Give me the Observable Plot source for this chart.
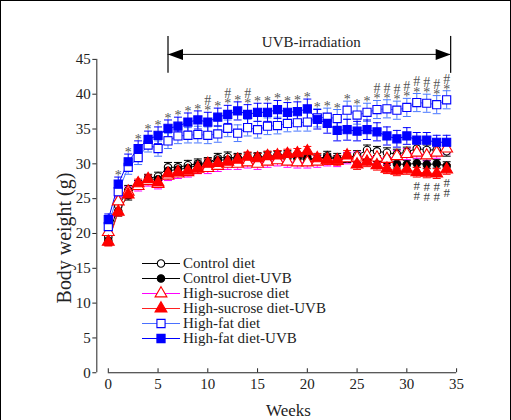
<!DOCTYPE html>
<html><head><meta charset="utf-8">
<script src="https://cdn.jsdelivr.net/npm/d3@7"></script>
<script src="https://cdn.jsdelivr.net/npm/@observablehq/plot@0.6"></script>
<style>
html,body{margin:0;padding:0;background:#fff;}
#wrap{position:relative;width:511px;height:420px;box-sizing:border-box;border:1px solid #000;border-bottom:none;overflow:hidden;font-family:"Liberation Serif",serif;}
#chart{position:absolute;left:-1px;top:-1px;}
#legend{position:absolute;left:-1px;top:-1px;}
svg text{font-family:"Liberation Serif",serif;}
</style></head><body><div id="wrap"><div id="chart"></div><svg id="legend" width="511" height="420"></svg></div>
<script>
// ---------- data ----------
const weeks = [0,1,2,3,4,5,6,7,8,9,10,11,12,13,14,15,16,17,18,19,20,21,22,23,24,25,26,27,28,29,30,31,32,33,34];
const controlDiet    = [19.5,24.0,26.2,27.0,27.9,28.2,29.5,29.5,29.8,30.0,30.2,30.8,31.0,30.8,30.9,30.8,31.1,31.2,31.0,30.8,30.6,30.7,31.1,30.8,30.9,31.2,32.0,31.8,31.6,31.4,31.7,32.2,32.0,32.0,31.8];
const controlUvb     = [19.0,23.2,25.5,27.0,27.8,27.8,29.0,29.2,29.4,29.8,30.1,30.5,30.6,30.8,30.8,31.0,31.0,31.2,31.3,31.0,30.9,30.6,30.9,30.6,30.8,30.8,30.7,30.6,30.4,30.0,29.9,30.1,29.9,30.0,29.7];
const sucroseDiet    = [20.2,24.6,26.0,26.8,27.5,27.1,28.3,28.6,28.8,29.4,29.4,29.7,30.0,30.0,30.2,30.0,30.3,30.5,30.3,30.2,30.2,30.3,30.5,30.4,30.8,30.9,31.2,30.9,30.7,31.1,31.4,31.6,31.2,31.6,32.2];
const sucroseUvb     = [18.8,23.1,25.6,27.2,27.8,27.3,28.6,28.8,29.0,29.3,30.0,30.1,30.3,30.6,31.0,30.8,31.1,31.2,31.4,31.5,31.8,30.8,30.6,30.5,31.2,29.9,30.3,29.8,29.3,29.0,29.2,28.8,28.7,28.6,29.2];
const fatDiet        = [21.0,26.0,29.5,30.9,32.7,32.2,33.3,34.0,34.1,34.2,34.1,34.3,35.1,34.4,35.2,34.9,35.4,35.5,35.8,35.9,36.0,36.6,36.7,36.5,37.7,37.0,37.4,37.8,37.9,37.7,38.1,38.8,38.7,38.5,39.2];
const fatUvb         = [22.0,27.1,30.3,32.2,33.5,34.1,35.1,35.4,36.0,36.3,36.0,36.7,37.1,37.6,37.1,37.4,37.4,37.8,37.4,37.5,37.9,36.4,35.8,34.8,34.9,34.7,34.9,34.6,34.0,33.6,34.0,33.4,33.4,33.1,33.1];
// standard errors
const controlDietErr = [0.6,0.7,0.7,0.6,0.6,0.6,0.7,0.7,0.7,0.7,0.7,0.7,0.7,0.7,0.7,0.7,0.7,0.7,0.7,0.7,0.7,0.7,0.7,0.7,0.7,0.7,0.7,0.7,0.7,0.7,0.7,0.7,0.7,0.7,0.7];
const controlUvbErr  = [0.7,0.7,0.7,0.6,0.6,0.6,0.6,0.6,0.6,0.6,0.6,0.6,0.6,0.6,0.6,0.6,0.6,0.6,0.6,0.6,0.6,0.6,0.6,0.6,0.6,0.6,0.6,0.6,0.6,0.6,0.6,0.6,0.6,0.6,0.6];
const sucroseDietErr = [0.6,0.7,0.7,0.7,0.7,0.7,0.7,0.7,0.7,0.8,0.8,0.8,0.8,0.8,0.8,0.8,0.8,0.8,0.8,0.8,0.8,0.8,0.8,0.8,0.8,0.8,0.8,0.8,0.8,0.8,0.8,0.8,0.8,0.8,0.8];
const sucroseUvbErr  = [0.6,0.6,0.6,0.6,0.6,0.6,0.6,0.6,0.6,0.7,0.7,0.7,0.7,0.7,0.7,0.7,0.7,0.7,0.7,0.7,0.7,0.7,0.7,0.7,0.7,0.7,0.7,0.7,0.7,0.7,0.7,0.7,0.7,0.7,0.7];
const fatDietErr     = [0.7,0.9,1.0,1.0,1.0,1.1,1.1,1.1,1.1,1.2,1.2,1.2,1.2,1.2,1.2,1.2,1.2,1.2,1.2,1.2,1.3,1.3,1.3,1.3,1.3,1.3,1.3,1.3,1.3,1.3,1.3,1.3,1.3,1.3,1.3];
const fatUvbErr      = [0.8,1.0,1.1,1.1,1.2,1.2,1.2,1.3,1.3,1.3,1.4,1.3,1.3,1.3,1.4,1.3,1.3,1.3,1.4,1.4,1.4,1.4,1.4,1.5,1.5,1.4,1.4,1.3,1.3,1.2,1.2,1.1,1.1,1.0,1.0];
// significance marks
const starWeeks = [1,2,3,4,5,6,7,8,9,10,11,12,13,14,15,16,17,18,19,20,21,22,23,24,25,26,27,28,29,30,31,32,33,34];
const hashTopWeeks = [10,12,14,27,28,29,30,31,32,33,34];
const hashBottomWeeks = [31,32,33,34];
const xTicks = [0,5,10,15,20,25,30,35];
const yTicks = [0,5,10,15,20,25,30,35,40,45];
const uvbStart = 6, uvbEnd = 34.4;
const uvbLabel = "UVB-irradiation";
const yLabel = "Body weight (g)";
const xLabel = "Weeks";
const seriesNames = ["Control diet","Control diet-UVB","High-sucrose diet","High-sucrose diet-UVB","High-fat diet","High-fat diet-UVB"];

// ---------- styles ----------
const styles = [
  {line:"#000000", err:"#000000", mk:"#000000", fill:"#ffffff", symbol:"circle", r:3.7},
  {line:"#000000", err:"#000000", mk:"#000000", fill:"#000000", symbol:"circle", r:3.7},
  {line:"#ff00ff", err:"#ff00ff", mk:"#ff0000", fill:"#ffffff", symbol:"triangle", r:4.4},
  {line:"#ff2020", err:"#ff0000", mk:"#ff0000", fill:"#ff0000", symbol:"triangle", r:4.4},
  {line:"#4a70ff", err:"#4a78ff", mk:"#0000ff", fill:"#ffffff", symbol:"square", r:4.6},
  {line:"#0000ff", err:"#0000ff", mk:"#0000ff", fill:"#0000ff", symbol:"square", r:4.6}
];
const valueArrays = [controlDiet, controlUvb, sucroseDiet, sucroseUvb, fatDiet, fatUvb];
const errArrays = [controlDietErr, controlUvbErr, sucroseDietErr, sucroseUvbErr, fatDietErr, fatUvbErr];
const series = seriesNames.map((name, i) => ({
  name, style: styles[i],
  rows: weeks.map((w, j) => ({week: w, value: valueArrays[i][j], err: errArrays[i][j]}))
}));

const capSym = {draw(ctx){ ctx.moveTo(-4,0); ctx.lineTo(4,0); }};
const barSym = {draw(ctx){ ctx.moveTo(0,-18.5); ctx.lineTo(0,18.5); }};
const headL = {draw(ctx){ ctx.moveTo(0,0); ctx.lineTo(15,-5.5); ctx.lineTo(15,5.5); ctx.closePath(); }};
const headR = {draw(ctx){ ctx.moveTo(0,0); ctx.lineTo(-15,-5.5); ctx.lineTo(-15,5.5); ctx.closePath(); }};

const starRows = starWeeks.map(w => {
  const j = weeks.indexOf(w);
  return {week: w, top: Math.max(fatDiet[j] + fatDietErr[j], fatUvb[j] + fatUvbErr[j]),
          label: hashTopWeeks.includes(w) ? "#\n*" : "*"};
});
const hashBottomRows = hashBottomWeeks.map(w => {
  const j = weeks.indexOf(w);
  return {week: w, bottom: Math.min(sucroseUvb[j] - sucroseUvbErr[j], controlUvb[j] - controlUvbErr[j])};
});

const font = "Liberation Serif";
const marks = [
  // axes
  Plot.ruleX([0], {y1: 0, y2: 45, dx: -11.5, stroke: "#222"}),
  Plot.axisY({ticks: yTicks, label: null, dx: -11.5, tickSize: 4, tickPadding: 2, fontSize: 15, fontFamily: font, color: "#222"}),
  Plot.ruleY([0], {x1: 0, x2: 35, stroke: "#222"}),
  Plot.axisX({ticks: xTicks, label: null, tickSize: 4, dy: -4, fill: "none", stroke: "#222"}),
  Plot.axisX({ticks: xTicks, label: null, tickSize: 0, tickPadding: 6, fontSize: 15, fontFamily: font, color: "#222"}),
  Plot.text([yLabel], {frameAnchor: "left", rotate: -90, textAnchor: "middle", dx: -44, dy: 22, fontSize: 20, fontFamily: font, fill: "#222", style: "letter-spacing:2px"}),
  Plot.text([xLabel], {frameAnchor: "bottom", lineAnchor: "bottom", dx: 6, dy: 43, fontSize: 17, fontFamily: font, fill: "#222"}),
  // UVB bracket
  Plot.ruleY([45], {x1: uvbStart, x2: uvbEnd, dy: -5, stroke: "#111"}),
  Plot.dot([uvbStart, uvbEnd], {x: d => d, y: 45, dy: -5, symbol: barSym, stroke: "#111", strokeWidth: 1.3}),
  Plot.dot([uvbStart], {x: d => d, y: 45, dy: -5, symbol: headL, fill: "#000", stroke: "none"}),
  Plot.dot([uvbEnd], {x: d => d, y: 45, dy: -5, symbol: headR, fill: "#000", stroke: "none"}),
  Plot.text([uvbLabel], {x: (uvbStart + uvbEnd) / 2, y: 45, dy: -12, dx: 2, lineAnchor: "bottom", fontSize: 15, fontFamily: font, fill: "#222"})
];
for (const s of series) {
  const st = s.style;
  marks.push(
    Plot.line(s.rows, {x: "week", y: "value", stroke: st.line, strokeWidth: 1}),
    Plot.ruleX(s.rows, {x: "week", y1: d => d.value - d.err, y2: d => d.value + d.err, stroke: st.err, strokeWidth: 1}),
    Plot.dot(s.rows, {x: "week", y: d => d.value + d.err, symbol: capSym, stroke: st.err, strokeWidth: 1}),
    Plot.dot(s.rows, {x: "week", y: d => d.value - d.err, symbol: capSym, stroke: st.err, strokeWidth: 1})
  );
}
for (const s of series) {
  const st = s.style;
  marks.push(Plot.dot(s.rows, {x: "week", y: "value", symbol: st.symbol, r: st.r, fill: st.fill, stroke: st.mk, strokeWidth: 1.1}));
}
marks.push(
  Plot.text(starRows, {x: "week", y: "top", text: "label", dy: 3, lineAnchor: "bottom", lineHeight: 0.72, fontSize: 14, fontFamily: font, fill: "#555"}),
  Plot.text(hashBottomRows, {x: "week", y: "bottom", text: () => "#\n#", dy: 23, lineAnchor: "bottom", lineHeight: 0.78, fontSize: 13, fontFamily: font, fill: "#444"})
);

const chart = Plot.plot({
  width: 511, height: 420,
  marginLeft: 108, marginRight: 54, marginTop: 59, marginBottom: 47,
  x: {domain: [0, 35], axis: null},
  y: {domain: [0, 45], axis: null},
  style: {fontFamily: font, background: "transparent", overflow: "visible"},
  marks
});
document.getElementById("chart").appendChild(chart);

// ---------- legend (inside the plot) ----------
const leg = d3.select("#legend");
const legTop = 263, legStep = 15, legX0 = 142, legX1 = 180, legTextX = 183;
series.forEach((s, i) => {
  const y = legTop + i * legStep;
  const st = s.style;
  const g = leg.append("g");
  g.append("line").attr("x1", legX0).attr("x2", legX1).attr("y1", y + 0.5).attr("y2", y + 0.5).attr("stroke", st.line).attr("stroke-width", 1.2);
  const symType = st.symbol === "circle" ? d3.symbolCircle : st.symbol === "triangle" ? d3.symbolTriangle : d3.symbolSquare;
  g.append("path").attr("d", d3.symbol(symType, Math.PI * st.r * st.r)())
    .attr("transform", `translate(${(legX0 + legX1) / 2},${y + 0.5})`)
    .attr("fill", st.fill).attr("stroke", st.mk).attr("stroke-width", 1.1);
  g.append("text").attr("x", legTextX).attr("y", y).attr("dy", "0.35em")
    .attr("font-family", font).attr("font-size", 15).attr("fill", "#222").text(s.name);
});
</script></body></html>
